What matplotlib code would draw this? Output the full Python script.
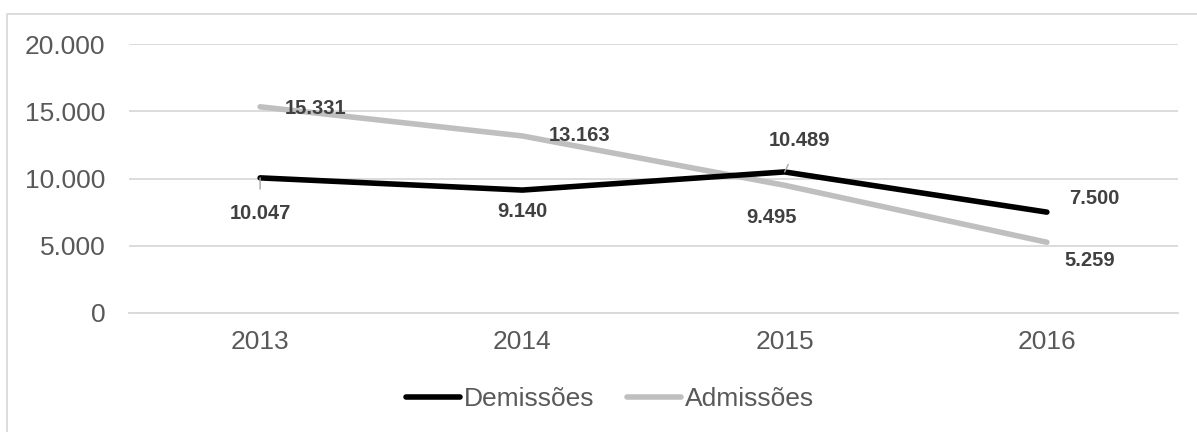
import matplotlib.pyplot as plt
from matplotlib.lines import Line2D

plt.rcParams['font.family'] = ['Liberation Sans', 'DejaVu Sans']

anos = ['2013', '2014', '2015', '2016']
demissoes = [10047, 9140, 10489, 7500]
admissoes = [15331, 13163, 9495, 5259]

# label offsets (pixels) from each point
off_dem = [(0, -36), (0, -21), (15, 31), (47, 14)]
off_adm = [(55, -2), (57, 0), (-13, -32), (43, -18)]


def fmt(v):
    return f'{v:,}'.replace(',', '.')


fig = plt.figure(figsize=(11.97, 4.32), dpi=100)
ax = fig.add_axes([129 / 1197, 1 - 313 / 432, 1049 / 1197, 269 / 432])

x = range(len(anos))
ax.plot(x, demissoes, color='black', lw=4, solid_capstyle='round', label='Demissões', zorder=3)
ax.plot(x, admissoes, color='#bfbfbf', lw=4, solid_capstyle='round', label='Admissões', zorder=2)

lbl = dict(textcoords='offset pixels', ha='center', va='center', fontsize=14.5,
           fontweight='bold', color='#404040', zorder=5)
for i, v in enumerate(demissoes):
    arrow = None
    if i in (0, 2):
        arrow = dict(arrowstyle='-', color='#a6a6a6', lw=1, shrinkA=9, shrinkB=0)
    ax.annotate(fmt(v), (i, v), xytext=off_dem[i], arrowprops=arrow, **lbl)
for i, v in enumerate(admissoes):
    ax.annotate(fmt(v), (i, v), xytext=off_adm[i], **lbl)

ax.set_xlim(-0.5, 3.5)
ax.set_ylim(0, 20000)
ax.set_yticks([0, 5000, 10000, 15000, 20000])
ax.set_yticklabels([fmt(t) for t in [0, 5000, 10000, 15000, 20000]])
ax.set_xticks(list(x))
ax.set_xticklabels(anos)
ax.grid(axis='y', color='#d9d9d9', lw=1.3)
ax.set_axisbelow(True)
for s in ['top', 'right', 'left']:
    ax.spines[s].set_visible(False)
ax.spines['bottom'].set_color('#d9d9d9')
ax.spines['bottom'].set_linewidth(1.3)
ax.tick_params(length=0, labelsize=19, labelcolor='#595959')
ax.tick_params(axis='x', pad=12)
ax.tick_params(axis='y', pad=17)

handles = [Line2D([], [], color='black', lw=4, solid_capstyle='round'),
           Line2D([], [], color='#bfbfbf', lw=4, solid_capstyle='round')]
fig.legend(handles, ['Demissões', 'Admissões'], loc='center', bbox_to_anchor=(610 / 1197, 1 - 399 / 432),
           ncol=2, frameon=False, fontsize=19, labelcolor='#595959', handlelength=2.05,
           handletextpad=0.15, columnspacing=1.2)

# chart frame (top and left edges)
fig.add_artist(Line2D([7 / 1197, 7 / 1197, 1.0], [0.0, 1 - 14 / 432, 1 - 14 / 432],
                      transform=fig.transFigure, color='#d9d9d9', lw=1.3))

fig.savefig('out.png', dpi=100)
